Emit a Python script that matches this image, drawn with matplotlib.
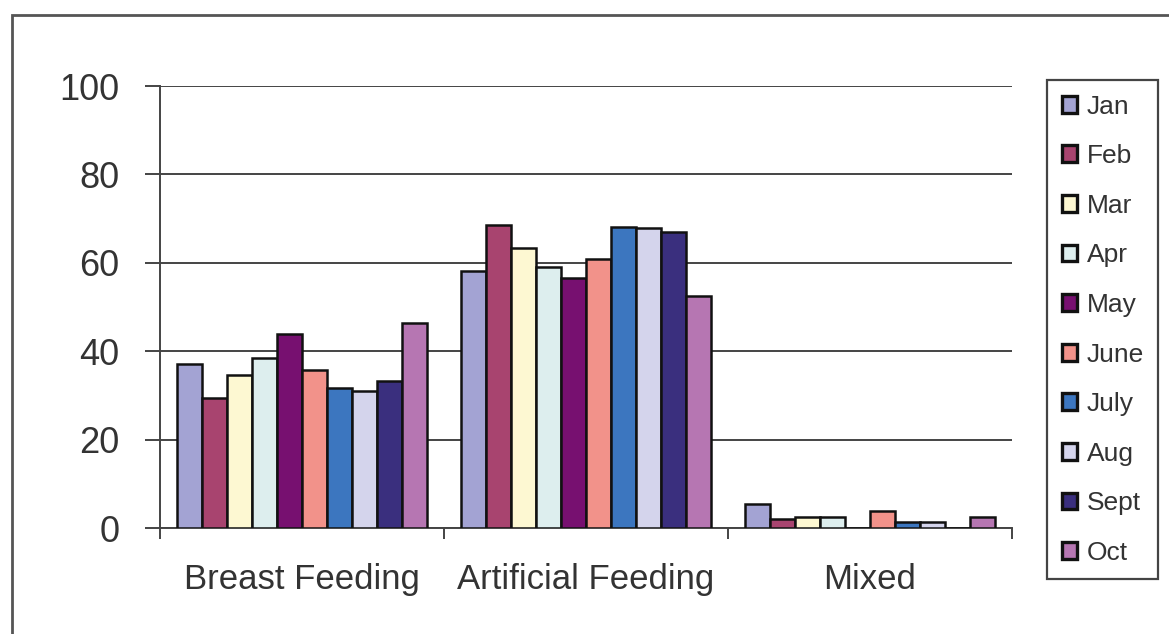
import matplotlib.pyplot as plt
import matplotlib.patches as patches
import numpy as np

# Feeding type share per month (%)
categories = ['Breast Feeding', 'Artificial Feeding', 'Mixed']
months = ['Jan', 'Feb', 'Mar', 'Apr', 'May', 'June', 'July', 'Aug', 'Sept', 'Oct']
breast = [37.0, 29.5, 34.6, 38.5, 43.9, 35.7, 31.7, 31.1, 33.3, 46.4]
artificial = [58.1, 68.6, 63.3, 59.0, 56.5, 60.9, 68.0, 67.9, 66.9, 52.6]
mixed = [5.5, 2.0, 2.5, 2.5, 0.0, 3.8, 1.3, 1.3, 0.0, 2.6]

colors = ['#a3a3d3', '#a8446f', '#fdf8d2', '#ddeeee', '#771070',
          '#f2928a', '#3c76bf', '#d4d4ec', '#3a2f7e', '#b676b2']

plt.rcParams['font.family'] = ['Liberation Sans', 'DejaVu Sans']
text_color = '#333333'
line_color = '#444444'

fig = plt.figure(figsize=(11.69, 6.34), dpi=100)
ax = fig.add_axes([160 / 1169, 1 - 528 / 634, 852 / 1169, 442 / 634])

values = np.array([breast, artificial, mixed])  # shape (category, month)
x = np.arange(len(categories))
n = len(months)
width = 0.088
offsets = (np.arange(n) - (n - 1) / 2) * width

for i, month in enumerate(months):
    ax.bar(x + offsets[i], values[:, i], width, color=colors[i],
           edgecolor='#111111', linewidth=1.8, label=month, zorder=3)

ax.set_xlim(-0.5, 2.5)
ax.set_ylim(0, 100)
ax.set_yticks(np.arange(0, 101, 20))
ax.yaxis.grid(True, color=line_color, linewidth=1.4, zorder=0)
ax.tick_params(axis='y', direction='out', length=11, width=1.4,
               color=line_color, pad=18, labelsize=26, labelcolor=text_color)

# category boundaries get the tick marks, names sit between them
ax.set_xticks([-0.5, 0.5, 1.5, 2.5])
ax.set_xticklabels([])
ax.tick_params(axis='x', which='major', direction='out', length=8,
               width=1.4, color=line_color)
ax.set_xticks(x, minor=True)
ax.set_xticklabels(categories, minor=True)
ax.tick_params(axis='x', which='minor', length=0, pad=25,
               labelsize=25, labelcolor=text_color)

for side in ['top', 'right']:
    ax.spines[side].set_visible(False)
for side in ['left', 'bottom']:
    ax.spines[side].set_color(line_color)
    ax.spines[side].set_linewidth(1.4)

leg = fig.legend(loc='upper left', bbox_to_anchor=(1047 / 1169, 1 - 80 / 634),
                 fontsize=19, frameon=True, fancybox=False, framealpha=1,
                 edgecolor=line_color, handlelength=0.6, handleheight=0.6,
                 handletextpad=0.35, labelspacing=0.97, borderpad=0.55,
                 borderaxespad=0)
leg.get_frame().set_linewidth(1.6)
for t in leg.get_texts():
    t.set_color(text_color)
for h in leg.legend_handles:
    h.set_linewidth(2.4)

# outer chart border
fig.patches.append(patches.Rectangle((12 / 1169, -0.05), 1.2, 1 - 15 / 634 + 0.05,
                                     transform=fig.transFigure, fill=False,
                                     edgecolor='#555555', linewidth=2))

fig.savefig('out.png', dpi=100)
